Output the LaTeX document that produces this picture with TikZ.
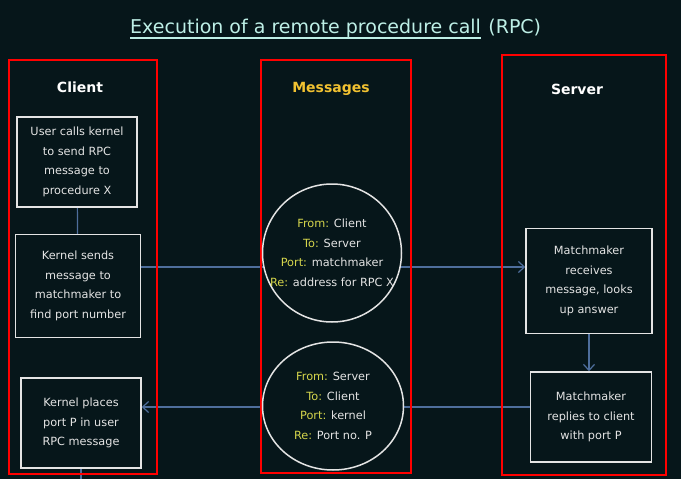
\documentclass[tikz,border=0pt]{standalone}
\usepackage{fontspec}
\setmainfont{DejaVu Sans}
\usetikzlibrary{shapes.geometric,arrows.meta,backgrounds}
\definecolor{bg}{HTML}{06161A}
\definecolor{keyc}{HTML}{D6D64C}
\definecolor{headc}{HTML}{F2C231}
\definecolor{linec}{HTML}{4E6E9C}
\definecolor{titlec}{HTML}{BDEFE6}
\definecolor{textc}{HTML}{E4E4E4}
\tikzset{
  lane/.style={draw=red, line width=2.8pt},
  head/.style={font=\bfseries\fontsize{14}{16}\selectfont},
  stepbox/.style={draw=textc, line width=1.5pt, text=textc, align=center,
    font=\fontsize{11.3}{19.5}\selectfont, inner sep=0pt},
  msg/.style={ellipse, draw=textc, line width=1.5pt, fill=bg, text=textc,
    align=center, font=\fontsize{11.3}{19.5}\selectfont, inner sep=0pt},
  flow/.style={draw=linec, line width=1.2pt, -{Straight Barb[length=6pt,width=11pt]}},
}
\newcommand{\kw}[1]{\textcolor{keyc}{#1}}
\begin{document}
\begin{tikzpicture}[x=1pt, y=-1pt]
\useasboundingbox (0,0) rectangle (681,479);
% title
\node[text=titlec, font=\fontsize{19}{22}\selectfont, inner sep=0pt, anchor=base west]
    (title) at (130,33) {Execution of a remote procedure call};
\node[text=titlec, font=\fontsize{19}{22}\selectfont, inner sep=0pt, anchor=base west]
    (rpc) at ([xshift=7pt]title.base east) {(RPC)};
\draw[titlec, line width=1.5pt] ([yshift=-5pt]title.base west) -- ([yshift=-5pt]title.base east);
% lanes
\draw[lane] (9,60) rectangle (157,474);
\draw[lane] (261,60) rectangle (411,473);
\draw[lane] (502,55) rectangle (666,475);
\node[head, text=white] (client) at (80,87) {Client};
\node[head, text=headc] (messages) at (331,89) {Messages};
\node[head, text=white] (server) at (577,89) {Server};
% client side
\node[stepbox, minimum width=120pt, minimum height=90pt] (c1) at (77,162)
    {User calls kernel\\to send RPC\\message to\\procedure X};
\node[stepbox, minimum width=125pt, minimum height=103pt] (c2) at (78,286)
    {Kernel sends\\message to\\matchmaker to\\find port number};
\node[stepbox, minimum width=120pt, minimum height=90pt] (c3) at (81,423)
    {Kernel places\\port P in user\\RPC message};
\coordinate (cout) at (81,479);
% messages
\node[msg, inner xsep=-16pt, minimum width=139pt, minimum height=138pt] (m1) at (332,253)
    {\kw{From:} Client\\\kw{To:} Server\\\kw{Port:} matchmaker\\\kw{Re:} address for RPC X};
\node[msg, minimum width=141pt, minimum height=128pt] (m2) at (333,406)
    {\kw{From:} Server\\\kw{To:} Client\\\kw{Port:} kernel\\\kw{Re:} Port no. P};
% server side
\node[stepbox, minimum width=126pt, minimum height=105pt] (s1) at (589,281)
    {Matchmaker\\receives\\message, looks\\up answer};
\node[stepbox, minimum width=121pt, minimum height=90pt] (s2) at (591,417)
    {Matchmaker\\replies to client\\with port P};
\begin{scope}[on background layer]
\fill[bg] (0,0) rectangle (681,479);
\draw[linec, line width=1.2pt] (c1) -- (c2);
\draw[linec, line width=1.2pt] (c3) -- (cout);
\draw[flow] (c2.east |- 0,267) -- (s1.west |- 0,267);
\draw[flow] (s2.west |- 0,407) -- (c3.east |- 0,407);
\draw[flow] (s1.south) -- (s1.south |- s2.north);
\end{scope}
\end{tikzpicture}
\end{document}
